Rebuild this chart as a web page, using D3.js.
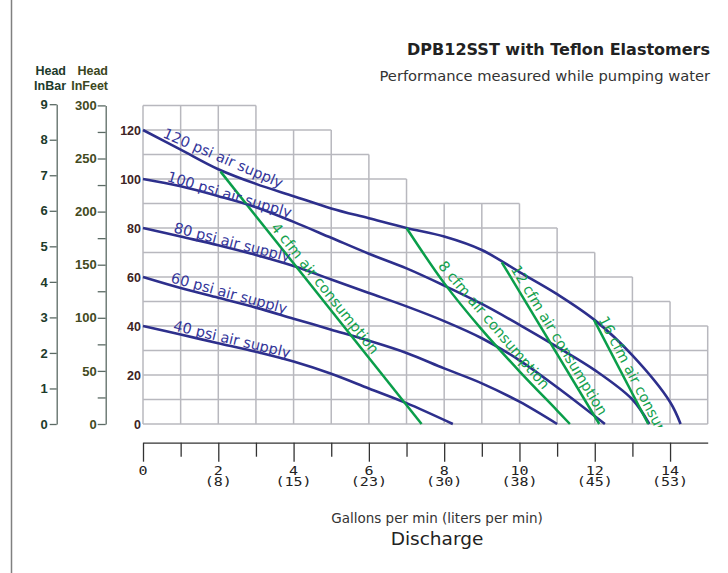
<!DOCTYPE html>
<html>
<head>
<meta charset="utf-8">
<script src="https://cdn.jsdelivr.net/npm/d3@7"></script>
<style>
  body { margin: 0; background: #fff; }
  svg { display: block; }
</style>
</head>
<body>
<svg id="chart" width="728" height="573"></svg>
<script>
// pump curves: [flow gpm, head psi]
var psi120 = [[0,120],[1,112],[2,104],[3,98],[4,93],[5,88],[6,84],[7,80],[8,76.5],[9,71],[10,62],[11,53],[12,42.4],[13,28],[14,9],[14.28,0]];
var psi100 = [[0,100],[1,97],[2,93],[3,88.5],[4,82.5],[5,76],[6,69.5],[7,63.5],[8,56.5],[9,49],[10,40.5],[11,31.5],[12,22],[13,10],[13.45,0]];
var psi80  = [[0,80],[1,76.5],[2,73],[3,69],[4,64.5],[5,59],[6,53.5],[7,48],[8,42],[9,35],[10,26],[11,15],[12.27,0]];
var psi60  = [[0,60],[1,55.5],[2,51.5],[3,47.5],[4,43],[5,38.5],[6,34],[7,29],[8,22.7],[9,16.6],[10,9.1],[11,0]];
var psi40  = [[0,40],[1,36.5],[2,33],[3,29.5],[4,25.5],[5,20.5],[6,14.5],[7,8.5],[8.23,0]];

// air consumption lines
var cfm4  = [[2.06,103],[7.4,0]];
var cfm8  = [[7,80],[8,57.5],[9,38.5],[10,21.5],[11,5.5],[11.34,0]];
var cfm12 = [[9.53,66],[12.12,0]];
var cfm16 = [[11.98,42.5],[13.42,0]];

// grid outline: top of each 1 gpm column, psi
var colTops = [130,130,130,120,120,110,100,90,90,90,80,70,60,50,40];

var psiTicks  = [0,20,40,60,80,100,120];
var barTicks  = [0,1,2,3,4,5,6,7,8,9];
var feetTicks = [0,25,50,75,100,125,150,175,200,225,250,275,300];
var gpmTicks  = [0,2,4,6,8,10,12,14];
var gpmMinor  = [1,3,5,7,9,11,13];
var lpmLabels = ["","(8)","(15)","(23)","(30)","(38)","(45)","(53)"];

var blueLabels = [
  { text: "120 psi air supply", series: psi120, g0: 0.48, g1: 3.9 },
  { text: "100 psi air supply", series: psi100, g0: 0.6,  g1: 3.9 },
  { text: "80 psi air supply",  series: psi80,  g0: 0.78, g1: 3.85 },
  { text: "60 psi air supply",  series: psi60,  g0: 0.7,  g1: 3.9 },
  { text: "40 psi air supply",  series: psi40,  g0: 0.77, g1: 4.0 }
];
var greenLabels = [
  { text: "4 cfm air consumption",  series: cfm4,  g0: 3.3,  g1: 6.0 },
  { text: "8 cfm air consumption",  series: cfm8,  g0: 7.74, g1: 10.5 },
  { text: "12 cfm air consumption", series: cfm12, g0: 9.67, g1: 12.0 },
  { text: "16 cfm air consumption", series: cfm16, g0: 12.0, g1: 13.4 }
];

var BLUE = "#2d2f8c", GREEN = "#0a9e4a", GRID = "#b8b8be";

var svg = d3.select("#chart");
var x = d3.scaleLinear().domain([0, 15]).range([143, 707.7]);
var y = d3.scaleLinear().domain([0, 130]).range([424, 105.5]);

// left frame line
svg.append("line").attr("x1", 11.5).attr("x2", 11.5).attr("y1", 0).attr("y2", 573)
  .attr("stroke", "#808080").attr("stroke-width", 1.5);

// titles
svg.append("text").attr("x", 710).attr("y", 55).attr("text-anchor", "end")
  .style("font", "bold 16px 'DejaVu Sans'").attr("fill", "#222")
  .text("DPB12SST with Teflon Elastomers");
svg.append("text").attr("x", 710).attr("y", 81).attr("text-anchor", "end")
  .style("font", "14.7px 'DejaVu Sans'").attr("fill", "#333")
  .text("Performance measured while pumping water");

// staircase grid
var grid = svg.append("g").attr("stroke", GRID).attr("stroke-width", 1.5);
d3.range(0, 16).forEach(function (g) {
  var top = Math.max(colTops[g - 1] || 0, colTops[g] || 0);
  grid.append("line").attr("x1", x(g)).attr("x2", x(g)).attr("y1", y(0)).attr("y2", y(top));
});
d3.range(0, 131, 10).forEach(function (h) {
  var end = 0;
  while (end < colTops.length && colTops[end] >= h) { end++; }
  grid.append("line").attr("x1", x(0)).attr("x2", x(end)).attr("y1", y(h)).attr("y2", y(h));
});

// main head scale labels (psi)
svg.append("g").selectAll("text").data(psiTicks).join("text")
  .attr("x", 141).attr("y", function (d) { return y(d); }).attr("dy", "0.36em")
  .attr("text-anchor", "end").attr("fill", "#3d2424")
  .style("font", "bold 12.5px 'Liberation Sans'")
  .text(function (d) { return d; });

// bar and feet scales share the psi scale
var barScale = d3.scaleLinear().domain([0, 9]).range([y(0), y(9 * 14.5038)]);
var feetScale = d3.scaleLinear().domain([0, 300]).range([y(0), y(300 / 2.307)]);

function styleAxis(g, col) {
  g.selectAll("path, line").attr("stroke", "#5b6a64").attr("stroke-width", 1.3);
  g.selectAll("text").attr("fill", col).style("font", "bold 13px 'Liberation Sans'");
}

var barAxis = svg.append("g").attr("transform", "translate(56.7,0)")
  .call(d3.axisLeft(barScale).tickValues(barTicks).tickSize(7).tickPadding(2).tickSizeOuter(0));
styleAxis(barAxis, "#1d3b2b");

var feetAxis = svg.append("g").attr("transform", "translate(105.7,0)")
  .call(d3.axisLeft(feetScale).tickValues(feetTicks).tickSize(8).tickPadding(1).tickSizeOuter(0)
    .tickFormat(function (d) { return d % 50 === 0 ? d : ""; }));
styleAxis(feetAxis, "#434a1e");

var heads = [
  { x: 66, col: "#1d3b2b", lines: ["Head", "InBar"] },
  { x: 108, col: "#3c4620", lines: ["Head", "InFeet"] }
];
heads.forEach(function (h) {
  h.lines.forEach(function (t, i) {
    svg.append("text").attr("x", h.x).attr("y", 75 + i * 15).attr("text-anchor", "end")
      .attr("fill", h.col).style("font", "bold 12.5px 'Liberation Sans'").text(t);
  });
});

// x axis
var xMajor = svg.append("g").attr("transform", "translate(0,442.7)")
  .call(d3.axisBottom(x).tickValues(gpmTicks).tickSize(19).tickSizeOuter(0).tickFormat(""));
var xMinor = svg.append("g").attr("transform", "translate(0,442.7)")
  .call(d3.axisBottom(x).tickValues(gpmMinor).tickSize(14).tickSizeOuter(0).tickFormat(""));
xMinor.select(".domain").remove();
[xMajor, xMinor].forEach(function (g) {
  g.selectAll("path, line").attr("stroke", "#333").attr("stroke-width", 1.3);
});

gpmTicks.forEach(function (g, i) {
  var lab = svg.append("g").attr("fill", "#222").style("font", "15px 'DejaVu Sans Mono'")
    .attr("text-anchor", "middle");
  lab.append("text").attr("transform", "translate(" + x(g) + ",474.5) scale(1,0.76)").text(g);
  if (lpmLabels[i]) {
    lab.append("text").attr("transform", "translate(" + x(g) + ",486) scale(1,0.76)").text(lpmLabels[i]);
  }
});

svg.append("text").attr("x", 437).attr("y", 523).attr("text-anchor", "middle")
  .attr("fill", "#333").style("font", "13.5px 'DejaVu Sans'")
  .text("Gallons per min (liters per min)");
svg.append("text").attr("x", 437).attr("y", 545).attr("text-anchor", "middle")
  .attr("fill", "#222").style("font", "18.5px 'DejaVu Sans'")
  .text("Discharge");

// curves
var line = d3.line().x(function (d) { return x(d[0]); }).y(function (d) { return y(d[1]); })
  .curve(d3.curveCatmullRom.alpha(0.5));

[psi120, psi100, psi80, psi60, psi40].forEach(function (s) {
  svg.append("path").datum(s).attr("d", line).attr("fill", "none")
    .attr("stroke", BLUE).attr("stroke-width", 2.6);
});
[cfm4, cfm8, cfm12, cfm16].forEach(function (s) {
  svg.append("path").datum(s).attr("d", line).attr("fill", "none")
    .attr("stroke", GREEN).attr("stroke-width", 2.5);
});

// labels along the curves
function pointAt(s, g) {
  for (var i = 1; i < s.length; i++) {
    if (g <= s[i][0] || i === s.length - 1) {
      var t = (g - s[i - 1][0]) / (s[i][0] - s[i - 1][0]);
      return [g, s[i - 1][1] + t * (s[i][1] - s[i - 1][1])];
    }
  }
}

svg.append("clipPath").attr("id", "plotclip").append("rect")
  .attr("x", 0).attr("y", 0).attr("width", 728).attr("height", y(0) + 3);

function drawLabels(list, col, off) {
  var g = svg.append("g").attr("clip-path", "url(#plotclip)");
  list.forEach(function (lab) {
    var p0 = pointAt(lab.series, lab.g0), p1 = pointAt(lab.series, lab.g1);
    var x0 = x(p0[0]), y0 = y(p0[1]);
    var a = Math.atan2(y(p1[1]) - y0, x(p1[0]) - x0);
    var ox = x0 + off * Math.sin(a), oy = y0 - off * Math.cos(a);
    g.append("text")
      .attr("transform", "translate(" + ox + "," + oy + ") rotate(" + (a * 180 / Math.PI) + ")")
      .attr("fill", col).style("font", "14.5px 'DejaVu Sans'")
      .text(lab.text);
  });
}
drawLabels(blueLabels, "#34369a", 2.5);
drawLabels(greenLabels, "#14a14e", 4);
</script>
</body>
</html>
